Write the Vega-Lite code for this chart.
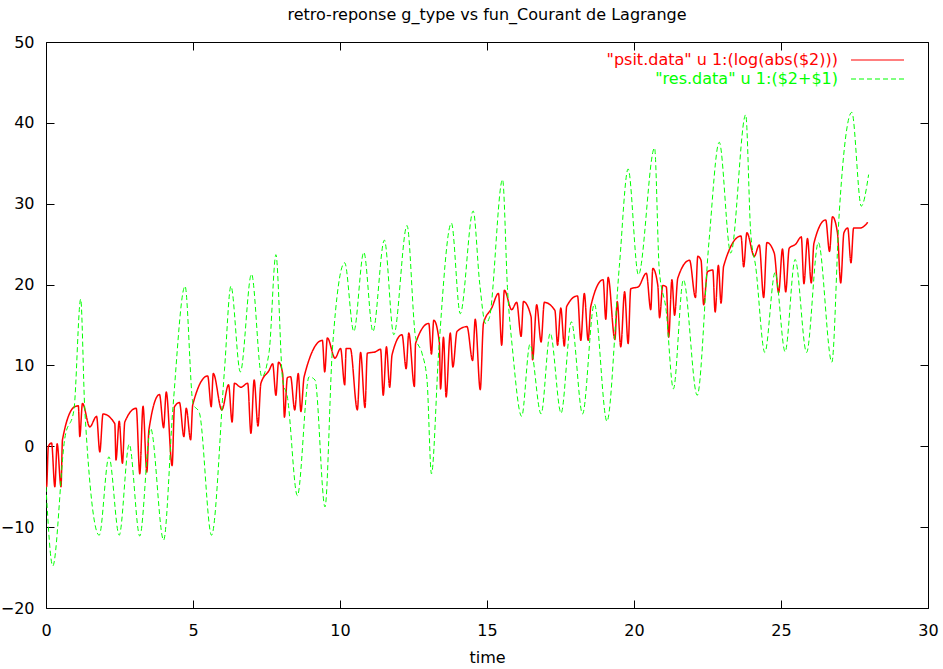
{
  "$schema": "https://vega.github.io/schema/vega-lite/v6.json",
  "width": 882,
  "height": 566,
  "autosize": "none",
  "padding": {"left": 46, "top": 42, "right": 15, "bottom": 61},
  "background": "white",
  "title": {"text": "retro-reponse g_type vs fun_Courant de Lagrange", "font": "DejaVu Sans", "fontSize": 16, "fontWeight": "normal", "color": "black", "offset": 11, "anchor": "middle", "frame": "group"},
  "config": {
    "view": {"stroke": "black", "strokeWidth": 1},
    "axis": {"domain": false, "grid": false, "tickColor": "black", "tickSize": -8, "tickWidth": 1, "labelFlush": false, "labelFont": "DejaVu Sans", "labelFontSize": 16, "labelColor": "black", "titleFont": "DejaVu Sans", "titleFontSize": 16, "titleFontWeight": "normal", "titleColor": "black"}
  },
  "datasets": {
    "curves": [
      {"series":"psit","t":0.00,"v":-5.0},{"series":"psit","t":0.02,"v":-5.0},{"series":"psit","t":0.08,"v":0.0},{"series":"psit","t":0.19,"v":0.4},{"series":"psit","t":0.30,"v":-5.0},{"series":"psit","t":0.38,"v":0.3},{"series":"psit","t":0.51,"v":-5.0},{"series":"psit","t":0.56,"v":0.8},{"series":"psit","t":0.98,"v":4.9},{"series":"psit","t":1.10,"v":5.0},{"series":"psit","t":1.15,"v":1.2},{"series":"psit","t":1.24,"v":5.3},{"series":"psit","t":1.49,"v":2.4},{"series":"psit","t":1.72,"v":3.7},{"series":"psit","t":1.83,"v":-0.7},{"series":"psit","t":1.94,"v":4.0},{"series":"psit","t":2.34,"v":2.8},{"series":"psit","t":2.38,"v":-1.7},{"series":"psit","t":2.49,"v":3.1},{"series":"psit","t":2.60,"v":-2.1},{"series":"psit","t":2.68,"v":3.0},{"series":"psit","t":3.07,"v":4.7},{"series":"psit","t":3.19,"v":-3.4},{"series":"psit","t":3.30,"v":4.95},{"series":"psit","t":3.43,"v":-3.2},{"series":"psit","t":3.50,"v":2.0},{"series":"psit","t":3.86,"v":6.4},{"series":"psit","t":4.00,"v":2.3},{"series":"psit","t":4.09,"v":6.7},{"series":"psit","t":4.29,"v":-2.4},{"series":"psit","t":4.37,"v":4.9},{"series":"psit","t":4.54,"v":5.4},{"series":"psit","t":4.69,"v":1.2},{"series":"psit","t":4.77,"v":4.7},{"series":"psit","t":4.92,"v":0.8},{"series":"psit","t":4.99,"v":5.1},{"series":"psit","t":5.50,"v":8.7},{"series":"psit","t":5.62,"v":4.9},{"series":"psit","t":5.69,"v":9.0},{"series":"psit","t":5.98,"v":4.5},{"series":"psit","t":6.21,"v":7.6},{"series":"psit","t":6.33,"v":3.0},{"series":"psit","t":6.41,"v":7.8},{"series":"psit","t":6.63,"v":7.3},{"series":"psit","t":6.86,"v":7.8},{"series":"psit","t":6.97,"v":1.6},{"series":"psit","t":7.08,"v":8.2},{"series":"psit","t":7.21,"v":2.5},{"series":"psit","t":7.31,"v":7.8},{"series":"psit","t":7.59,"v":9.4},{"series":"psit","t":7.71,"v":10.2},{"series":"psit","t":7.82,"v":6.3},{"series":"psit","t":7.91,"v":10.4},{"series":"psit","t":8.05,"v":9.0},{"series":"psit","t":8.11,"v":3.6},{"series":"psit","t":8.21,"v":8.5},{"series":"psit","t":8.32,"v":8.6},{"series":"psit","t":8.46,"v":4.5},{"series":"psit","t":8.58,"v":9.0},{"series":"psit","t":8.67,"v":4.3},{"series":"psit","t":8.78,"v":8.6},{"series":"psit","t":9.40,"v":13.1},{"series":"psit","t":9.48,"v":9.2},{"series":"psit","t":9.57,"v":13.4},{"series":"psit","t":9.83,"v":10.9},{"series":"psit","t":10.02,"v":12.1},{"series":"psit","t":10.16,"v":7.6},{"series":"psit","t":10.21,"v":12.1},{"series":"psit","t":10.35,"v":12.1},{"series":"psit","t":10.59,"v":4.5},{"series":"psit","t":10.70,"v":11.6},{"series":"psit","t":10.85,"v":4.8},{"series":"psit","t":10.93,"v":11.5},{"series":"psit","t":11.21,"v":11.7},{"series":"psit","t":11.38,"v":12.0},{"series":"psit","t":11.47,"v":6.3},{"series":"psit","t":11.58,"v":12.3},{"series":"psit","t":11.69,"v":7.3},{"series":"psit","t":11.77,"v":11.3},{"series":"psit","t":12.11,"v":13.8},{"series":"psit","t":12.25,"v":9.6},{"series":"psit","t":12.34,"v":14.0},{"series":"psit","t":12.53,"v":7.4},{"series":"psit","t":12.57,"v":12.7},{"series":"psit","t":13.02,"v":15.2},{"series":"psit","t":13.11,"v":11.4},{"series":"psit","t":13.19,"v":15.6},{"series":"psit","t":13.38,"v":12.8},{"series":"psit","t":13.42,"v":7.1},{"series":"psit","t":13.52,"v":13.5},{"series":"psit","t":13.61,"v":6.1},{"series":"psit","t":13.75,"v":14.0},{"series":"psit","t":13.84,"v":9.8},{"series":"psit","t":13.98,"v":14.2},{"series":"psit","t":14.32,"v":14.8},{"series":"psit","t":14.51,"v":10.6},{"series":"psit","t":14.60,"v":15.7},{"series":"psit","t":14.77,"v":7.0},{"series":"psit","t":14.88,"v":15.2},{"series":"psit","t":15.16,"v":17.1},{"series":"psit","t":15.39,"v":18.9},{"series":"psit","t":15.50,"v":12.5},{"series":"psit","t":15.59,"v":19.3},{"series":"psit","t":15.84,"v":16.9},{"series":"psit","t":16.01,"v":17.8},{"series":"psit","t":16.16,"v":13.6},{"series":"psit","t":16.24,"v":17.9},{"series":"psit","t":16.50,"v":16.0},{"series":"psit","t":16.55,"v":10.7},{"series":"psit","t":16.69,"v":17.5},{"series":"psit","t":16.84,"v":12.9},{"series":"psit","t":16.95,"v":17.8},{"series":"psit","t":17.31,"v":16.8},{"series":"psit","t":17.40,"v":12.5},{"series":"psit","t":17.51,"v":17.1},{"series":"psit","t":17.63,"v":12.4},{"series":"psit","t":17.71,"v":17.3},{"series":"psit","t":18.08,"v":18.6},{"series":"psit","t":18.19,"v":13.1},{"series":"psit","t":18.31,"v":18.9},{"series":"psit","t":18.44,"v":13.1},{"series":"psit","t":18.53,"v":17.3},{"series":"psit","t":18.95,"v":20.6},{"series":"psit","t":19.04,"v":15.7},{"series":"psit","t":19.12,"v":20.9},{"series":"psit","t":19.35,"v":13.2},{"series":"psit","t":19.43,"v":17.9},{"series":"psit","t":19.55,"v":12.3},{"series":"psit","t":19.68,"v":19.1},{"series":"psit","t":19.80,"v":12.7},{"series":"psit","t":19.89,"v":19.5},{"series":"psit","t":20.14,"v":19.7},{"series":"psit","t":20.42,"v":21.4},{"series":"psit","t":20.57,"v":16.9},{"series":"psit","t":20.64,"v":22.0},{"series":"psit","t":20.81,"v":19.9},{"series":"psit","t":20.87,"v":15.9},{"series":"psit","t":20.98,"v":19.9},{"series":"psit","t":21.10,"v":19.7},{"series":"psit","t":21.18,"v":13.5},{"series":"psit","t":21.29,"v":20.6},{"series":"psit","t":21.38,"v":16.2},{"series":"psit","t":21.49,"v":20.8},{"series":"psit","t":21.89,"v":23.0},{"series":"psit","t":22.09,"v":18.4},{"series":"psit","t":22.17,"v":23.5},{"series":"psit","t":22.28,"v":23.0},{"series":"psit","t":22.37,"v":17.5},{"series":"psit","t":22.50,"v":21.6},{"series":"psit","t":22.68,"v":21.8},{"series":"psit","t":22.76,"v":16.6},{"series":"psit","t":22.87,"v":22.4},{"series":"psit","t":22.96,"v":17.7},{"series":"psit","t":23.05,"v":22.3},{"series":"psit","t":23.64,"v":26.0},{"series":"psit","t":23.73,"v":22.2},{"series":"psit","t":23.84,"v":26.4},{"series":"psit","t":24.09,"v":23.5},{"series":"psit","t":24.26,"v":24.9},{"series":"psit","t":24.41,"v":18.4},{"series":"psit","t":24.52,"v":25.2},{"series":"psit","t":24.77,"v":23.9},{"series":"psit","t":24.92,"v":19.0},{"series":"psit","t":25.05,"v":24.4},{"series":"psit","t":25.16,"v":19.1},{"series":"psit","t":25.28,"v":24.5},{"series":"psit","t":25.50,"v":25.0},{"series":"psit","t":25.69,"v":25.9},{"series":"psit","t":25.78,"v":20.1},{"series":"psit","t":25.90,"v":25.7},{"series":"psit","t":26.03,"v":20.2},{"series":"psit","t":26.12,"v":25.1},{"series":"psit","t":26.52,"v":28.0},{"series":"psit","t":26.65,"v":24.1},{"series":"psit","t":26.75,"v":28.4},{"series":"psit","t":26.92,"v":26.4},{"series":"psit","t":27.03,"v":20.2},{"series":"psit","t":27.14,"v":26.4},{"series":"psit","t":27.27,"v":27.0},{"series":"psit","t":27.38,"v":22.7},{"series":"psit","t":27.47,"v":27.0},{"series":"psit","t":27.70,"v":27.0},{"series":"psit","t":27.95,"v":27.7},
      {"series":"res","t":0.00,"v":-5.0},{"series":"res","t":0.23,"v":-14.8},{"series":"res","t":0.64,"v":1.0},{"series":"res","t":0.95,"v":4.5},{"series":"res","t":1.18,"v":18.2},{"series":"res","t":1.32,"v":4.5},{"series":"res","t":1.81,"v":-11.0},{"series":"res","t":2.14,"v":-1.3},{"series":"res","t":2.49,"v":-11.0},{"series":"res","t":2.83,"v":0.25},{"series":"res","t":3.19,"v":-11.1},{"series":"res","t":3.56,"v":2.2},{"series":"res","t":4.00,"v":-11.6},{"series":"res","t":4.32,"v":4.9},{"series":"res","t":4.73,"v":19.8},{"series":"res","t":5.00,"v":5.3},{"series":"res","t":5.22,"v":4.1},{"series":"res","t":5.63,"v":-11.0},{"series":"res","t":6.07,"v":9.4},{"series":"res","t":6.29,"v":19.8},{"series":"res","t":6.61,"v":9.2},{"series":"res","t":6.99,"v":21.3},{"series":"res","t":7.34,"v":8.6},{"series":"res","t":7.59,"v":11.7},{"series":"res","t":7.82,"v":23.7},{"series":"res","t":8.05,"v":8.2},{"series":"res","t":8.21,"v":6.1},{"series":"res","t":8.55,"v":-6.1},{"series":"res","t":8.95,"v":8.6},{"series":"res","t":9.15,"v":8.2},{"series":"res","t":9.49,"v":-7.5},{"series":"res","t":9.74,"v":11.9},{"series":"res","t":10.16,"v":22.7},{"series":"res","t":10.47,"v":14.2},{"series":"res","t":10.81,"v":24.0},{"series":"res","t":11.12,"v":14.2},{"series":"res","t":11.51,"v":25.5},{"series":"res","t":11.83,"v":13.8},{"series":"res","t":12.28,"v":27.3},{"series":"res","t":12.57,"v":13.5},{"series":"res","t":12.79,"v":11.5},{"series":"res","t":12.96,"v":8.2},{"series":"res","t":13.11,"v":-3.4},{"series":"res","t":13.36,"v":11.9},{"series":"res","t":13.79,"v":27.6},{"series":"res","t":14.09,"v":16.4},{"series":"res","t":14.53,"v":29.1},{"series":"res","t":14.75,"v":20.2},{"series":"res","t":14.95,"v":15.2},{"series":"res","t":15.08,"v":15.9},{"series":"res","t":15.53,"v":33.0},{"series":"res","t":15.70,"v":19.3},{"series":"res","t":15.87,"v":11.9},{"series":"res","t":16.18,"v":3.7},{"series":"res","t":16.46,"v":12.6},{"series":"res","t":16.84,"v":4.0},{"series":"res","t":17.15,"v":14.0},{"series":"res","t":17.52,"v":4.1},{"series":"res","t":17.87,"v":15.4},{"series":"res","t":18.25,"v":4.0},{"series":"res","t":18.65,"v":17.6},{"series":"res","t":19.08,"v":3.1},{"series":"res","t":19.50,"v":22.2},{"series":"res","t":19.80,"v":34.3},{"series":"res","t":20.15,"v":21.2},{"series":"res","t":20.70,"v":36.9},{"series":"res","t":20.86,"v":21.8},{"series":"res","t":21.09,"v":16.9},{"series":"res","t":21.34,"v":7.1},{"series":"res","t":21.68,"v":20.6},{"series":"res","t":22.15,"v":6.3},{"series":"res","t":22.55,"v":25.3},{"series":"res","t":22.90,"v":37.6},{"series":"res","t":23.29,"v":23.9},{"series":"res","t":23.80,"v":41.0},{"series":"res","t":23.97,"v":26.4},{"series":"res","t":24.14,"v":22.2},{"series":"res","t":24.45,"v":11.6},{"series":"res","t":24.80,"v":21.5},{"series":"res","t":25.14,"v":11.7},{"series":"res","t":25.48,"v":23.1},{"series":"res","t":25.87,"v":11.6},{"series":"res","t":26.27,"v":25.2},{"series":"res","t":26.73,"v":10.4},{"series":"res","t":26.98,"v":28.8},{"series":"res","t":27.41,"v":41.3},{"series":"res","t":27.73,"v":29.7},{"series":"res","t":27.98,"v":33.6}
    ]
  },
  "data": {"name": "curves"},
  "layer": [
    {
      "transform": [{"filter": "datum.series == 'psit'"}],
      "mark": {"type": "line", "interpolate": "monotone", "strokeWidth": 1.5, "clip": true},
      "encoding": {
        "x": {"field": "t", "type": "quantitative", "scale": {"domain": [0, 30], "nice": false, "zero": false}, "axis": {"orient": "bottom", "values": [0, 5, 10, 15, 20, 25, 30], "title": "time", "labelPadding": 22, "titlePadding": 11}},
        "y": {"field": "v", "type": "quantitative", "scale": {"domain": [-20, 50], "nice": false, "zero": false}, "axis": {"orient": "left", "values": [-20, -10, 0, 10, 20, 30, 40, 50], "title": null, "labelPadding": 20}},
        "color": {"field": "series", "type": "nominal", "scale": {"domain": ["psit", "res"], "range": ["#ff0000", "#00ff00"]},
          "legend": {"orient": "none", "legendX": 556, "legendY": 10, "title": null, "padding": 0, "labelFont": "DejaVu Sans", "labelFontSize": 16, "labelLimit": 600, "labelAlign": "right", "symbolType": "M-5.3,0H5.3", "symbolSize": 100, "symbolStrokeWidth": 1.2, "rowPadding": 3,
            "labelExpr": "datum.value == 'psit' ? '\"psit.data\" u 1:(log(abs($2)))' : '\"res.data\" u 1:($2+$1)'",
            "encode": {"labels": {"update": {"x": {"value": 236}, "fill": [{"test": "datum.value == 'psit'", "value": "#ff0000"}, {"value": "#00ff00"}]}}, "symbols": {"update": {"x": {"value": 275.5}}}}}},
        "strokeDash": {"field": "series", "type": "nominal", "scale": {"domain": ["psit", "res"], "range": [[1, 0], [5, 3]]}}
      }
    },
    {
      "transform": [{"filter": "datum.series == 'res'"}],
      "mark": {"type": "line", "interpolate": "monotone", "strokeWidth": 1, "clip": true},
      "encoding": {
        "x": {"field": "t", "type": "quantitative", "axis": {"orient": "top", "values": [0, 5, 10, 15, 20, 25, 30], "labels": false, "title": null}},
        "y": {"field": "v", "type": "quantitative", "axis": {"orient": "right", "values": [-20, -10, 0, 10, 20, 30, 40, 50], "labels": false, "title": null}},
        "color": {"field": "series", "type": "nominal"},
        "strokeDash": {"field": "series", "type": "nominal"}
      }
    }
  ],
  "resolve": {"axis": {"x": "independent", "y": "independent"}}
}
